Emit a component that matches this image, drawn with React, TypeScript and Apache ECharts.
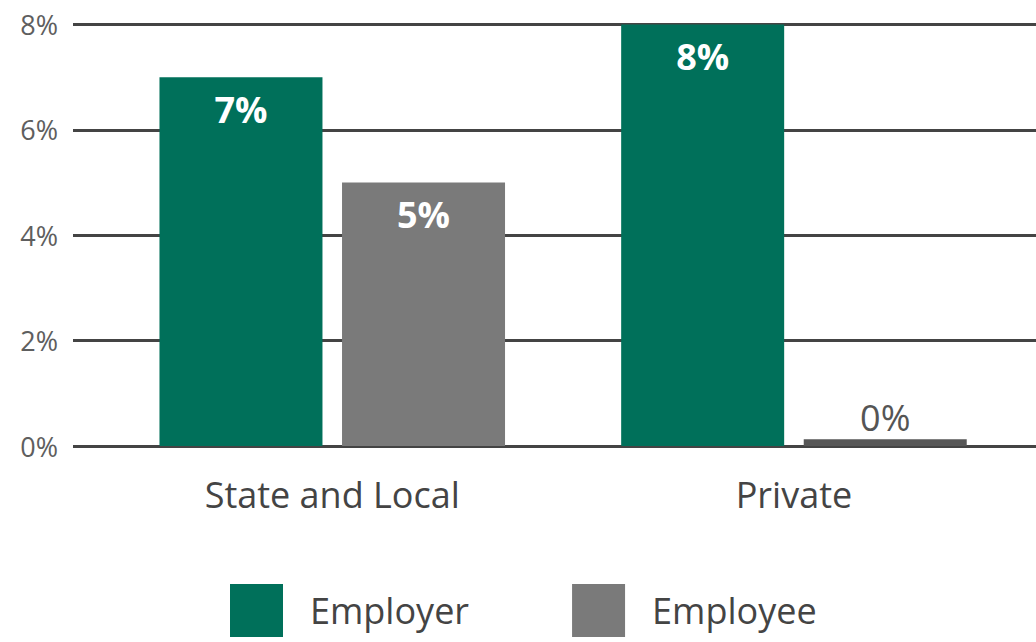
import React, { useEffect, useRef } from "react";
import * as echarts from "echarts";

const categories = ["State and Local", "Private"];
const employer = [7, 8];
const employee = [5, 0.13];
const yTicks = { min: 0, max: 8, interval: 2 };

const GREEN = "#00705a";
const GRAY = "#7a7a7a";
const DARK_GRAY = "#575757";
const FONT = "'Open Sans', 'Noto Sans', sans-serif";

function buildData(values: number[], color: string) {
  return values.map((v) => {
    const small = v < 1;
    return {
      value: v,
      itemStyle: { color: small ? DARK_GRAY : color },
      label: small
        ? { position: "top", distance: 4, color: "#555", fontWeight: "normal" }
        : { position: "insideTop", distance: 14, color: "#ffffff", fontWeight: "bold" },
    };
  });
}

export default function App() {
  const ref = useRef<HTMLDivElement>(null);
  useEffect(() => {
    if (!ref.current) return;
    const chart = echarts.init(ref.current, undefined, { renderer: "svg" });
    const labelCommon = {
      show: true,
      fontSize: 36,
      fontFamily: FONT,
      formatter: (p: any) => Math.round(p.value) + "%",
    };
    chart.setOption({
      animation: false,
      backgroundColor: "#ffffff",
      grid: [
        { left: 73, right: 0, top: 24.5, bottom: 196 },
        { left: 101.4, right: 11.2, top: 24.5, bottom: 196 },
      ],
      xAxis: [
        { type: "value", gridIndex: 0, show: false, min: 0, max: 1 },
        {
          type: "category",
          gridIndex: 1,
          data: categories,
          axisLine: { show: false },
          axisTick: { show: false },
          axisLabel: { color: "#444", fontSize: 36, fontFamily: FONT, margin: 30 },
        },
      ],
      yAxis: [
        {
          type: "value",
          gridIndex: 0,
          min: yTicks.min,
          max: yTicks.max,
          interval: yTicks.interval,
          axisLine: { show: false },
          axisTick: { show: false },
          axisLabel: {
            formatter: "{value}%",
            color: "#5e5e5e",
            fontSize: 27,
            fontFamily: FONT,
            margin: 15,
          },
          splitLine: { show: true, lineStyle: { color: "#444", width: 3 } },
        },
        {
          type: "value",
          gridIndex: 1,
          min: yTicks.min,
          max: yTicks.max,
          interval: yTicks.interval,
          show: false,
          splitLine: { show: false },
        },
      ],
      legend: {
        left: 230,
        top: 584,
        padding: 0,
        icon: "rect",
        itemWidth: 53,
        itemHeight: 53,
        itemGap: 103,
        textStyle: {
          color: "#444",
          fontSize: 36,
          fontFamily: FONT,
          padding: [0, 0, 0, 22],
        },
        data: ["Employer", "Employee"],
      },
      series: [
        {
          name: "Employer",
          type: "bar",
          xAxisIndex: 1,
          yAxisIndex: 1,
          barWidth: 163,
          barGap: "12%",
          itemStyle: { color: GREEN },
          label: labelCommon,
          data: buildData(employer, GREEN),
        },
        {
          name: "Employee",
          type: "bar",
          xAxisIndex: 1,
          yAxisIndex: 1,
          barWidth: 163,
          barGap: "12%",
          itemStyle: { color: GRAY },
          label: labelCommon,
          data: buildData(employee, GRAY),
        },
      ],
    });
    return () => chart.dispose();
  }, []);
  return (
    <div
      ref={ref}
      style={{ position: "fixed", left: 0, top: 0, width: 1036, height: 642 }}
    />
  );
}
